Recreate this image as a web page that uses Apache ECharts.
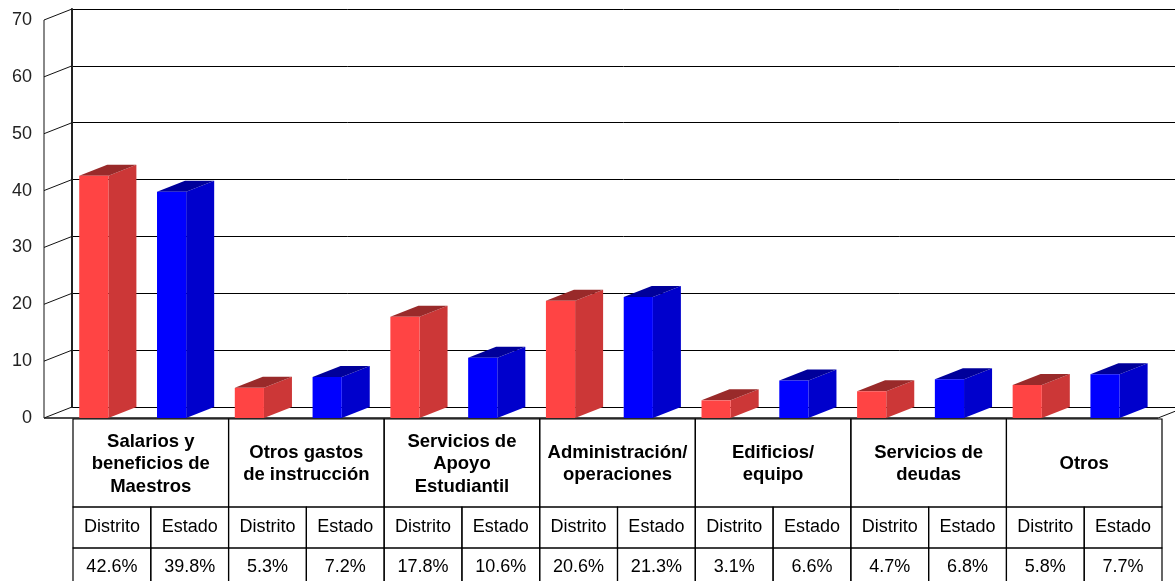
<!DOCTYPE html>
<html>
<head>
<meta charset="utf-8">
<script src="https://cdn.jsdelivr.net/npm/echarts@6/dist/echarts.min.js"></script>
<style>
  html, body { margin: 0; padding: 0; background: #fff; }
  #chart { width: 1175px; height: 581px; }
</style>
</head>
<body>
<div id="chart"></div>
<script>
// data
const categories = [
  'Salarios y\nbeneficios de\nMaestros',
  'Otros gastos\nde instrucción',
  'Servicios de\nApoyo\nEstudiantil',
  'Administración/\noperaciones',
  'Edificios/\nequipo',
  'Servicios de\ndeudas',
  'Otros'
]
const seriesNames = ['Distrito', 'Estado']
const distrito = [42.6, 5.3, 17.8, 20.6, 3.1, 4.7, 5.8]
const estado = [39.8, 7.2, 10.6, 21.3, 6.6, 6.8, 7.7]
const yTicks = [0, 10, 20, 30, 40, 50, 60, 70]

const FONT = 'Arial, "Liberation Sans", sans-serif'
const DEPTH_X = 28
const DEPTH_Y = 11
const AXIS_GAP = 29 // front y axis sits left of the category band
const colors = [
  { front: '#ff4444', side: '#cc3737', top: '#992a2a' },
  { front: '#0000ff', side: '#0000cc', top: '#00009a' }
]

const chart = echarts.init(document.getElementById('chart'))

function renderBar(params, api) {
  const cat = api.value(0)
  const val = api.value(1)
  const s = api.value(2)
  const base = api.coord([cat, 0])
  const top = api.coord([cat, val])
  const half = api.size([1, 0])[0] / 2
  const w = half * 0.375
  const x0 = base[0] - half + s * half + half * 0.08
  const x1 = x0 + w
  const y0 = base[1]
  const y1 = top[1]
  const c = colors[s]
  return {
    type: 'group',
    children: [
      { type: 'polygon', shape: { points: [[x1, y1], [x1 + DEPTH_X, y1 - DEPTH_Y], [x1 + DEPTH_X, y0 - DEPTH_Y], [x1, y0]] }, style: { fill: c.side } },
      { type: 'polygon', shape: { points: [[x0, y1], [x0 + DEPTH_X, y1 - DEPTH_Y], [x1 + DEPTH_X, y1 - DEPTH_Y], [x1, y1]] }, style: { fill: c.top } },
      { type: 'rect', shape: { x: x0, y: y1, width: w, height: y0 - y1 }, style: { fill: c.front } }
    ]
  }
}

function renderFrame(params, api) {
  const v = api.value(1)
  const p = api.coord([0, v])
  const ax = params.coordSys.x - AXIS_GAP
  const children = [
    { type: 'line', shape: { x1: ax, y1: p[1], x2: ax + DEPTH_X, y2: p[1] - DEPTH_Y }, style: { stroke: '#111', lineWidth: 1 } }
  ]
  if (v === 0) {
    const t = api.coord([0, yTicks[yTicks.length - 1]])
    const right = params.coordSys.x + params.coordSys.width - 4
    children.push(
      { type: 'line', shape: { x1: ax, y1: p[1], x2: ax, y2: t[1] }, style: { stroke: '#888', lineWidth: 2 } },
      { type: 'line', shape: { x1: ax, y1: p[1], x2: right, y2: p[1] }, style: { stroke: '#111', lineWidth: 1.5 } },
      { type: 'line', shape: { x1: right, y1: p[1], x2: right + DEPTH_X, y2: p[1] - DEPTH_Y }, style: { stroke: '#111', lineWidth: 1 } }
    )
  }
  return { type: 'group', children: children }
}

function renderTable(params, api) {
  const i = params.dataIndex
  const base = api.coord([i, 0])
  const band = api.size([1, 0])[0]
  const half = band / 2
  const left = base[0] - half
  const top = base[1] + 1
  const hH = 88
  const rH = 41
  const line = { stroke: '#000', lineWidth: 1.2, fill: null }
  const txt = (text, x, y, font) => ({
    type: 'text',
    style: { text: text, x: x, y: y, align: 'center', verticalAlign: 'middle', font: font, lineHeight: 22.5, fill: '#000' }
  })
  const children = [
    { type: 'rect', shape: { x: left, y: top, width: band, height: hH }, style: line },
    txt(categories[i], base[0], top + hH / 2 + 1, 'bold 18.5px ' + FONT)
  ]
  const vals = [api.value(1), api.value(2)]
  for (let s = 0; s < 2; s++) {
    const cx = left + s * half
    children.push(
      { type: 'rect', shape: { x: cx, y: top + hH, width: half, height: rH }, style: line },
      { type: 'rect', shape: { x: cx, y: top + hH + rH, width: half, height: rH }, style: line },
      txt(seriesNames[s], cx + half / 2, top + hH + rH / 2, '18px ' + FONT),
      txt(vals[s].toFixed(1) + '%', cx + half / 2, top + hH + rH + rH / 2 - 1, '18px ' + FONT)
    )
  }
  return { type: 'group', children: children }
}

chart.setOption({
  animation: false,
  backgroundColor: '#fff',
  grid: [
    { left: 73, right: 13, top: 20, bottom: 163 },
    { left: 72, right: -20, top: 9, bottom: 174 }
  ],
  xAxis: [
    { type: 'category', gridIndex: 0, data: categories, show: false },
    { type: 'value', gridIndex: 1, show: false }
  ],
  yAxis: [
    {
      type: 'value', gridIndex: 0, min: 0, max: 70, interval: 10,
      axisLine: { show: false }, axisTick: { show: false }, splitLine: { show: false },
      axisLabel: { margin: 41, fontSize: 18, fontFamily: FONT, color: '#222' }
    },
    {
      type: 'value', gridIndex: 1, min: 0, max: 70, interval: 10,
      axisLine: { show: true, lineStyle: { color: '#222', width: 2 } },
      axisTick: { show: false }, axisLabel: { show: false },
      splitLine: { show: true, lineStyle: { color: '#000', width: 1 } }
    }
  ],
  series: [
    {
      type: 'custom', name: 'frame', xAxisIndex: 0, yAxisIndex: 0, z: 1,
      renderItem: renderFrame,
      data: yTicks.map(v => [0, v])
    },
    {
      type: 'custom', name: seriesNames[0], xAxisIndex: 0, yAxisIndex: 0, z: 3,
      renderItem: renderBar,
      data: distrito.map((v, i) => [i, v, 0])
    },
    {
      type: 'custom', name: seriesNames[1], xAxisIndex: 0, yAxisIndex: 0, z: 3,
      renderItem: renderBar,
      data: estado.map((v, i) => [i, v, 1])
    },
    {
      type: 'custom', name: 'table', xAxisIndex: 0, yAxisIndex: 0, z: 4,
      renderItem: renderTable,
      data: categories.map((c, i) => [i, distrito[i], estado[i]])
    }
  ]
})
</script>
</body>
</html>
